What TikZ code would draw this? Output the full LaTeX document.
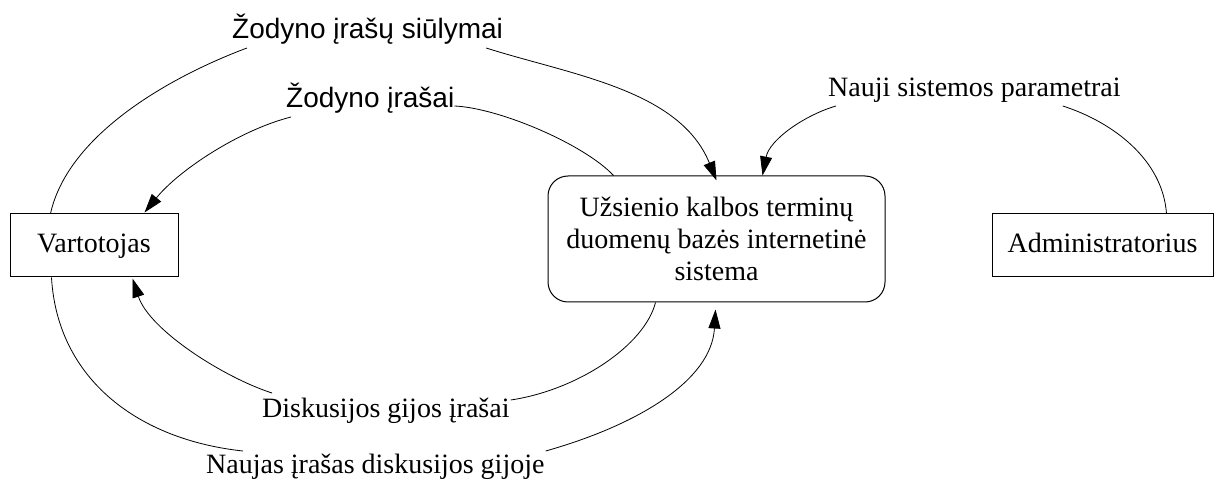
\documentclass[tikz,border=0pt]{standalone}
\usepackage{fontspec}
\setmainfont{Liberation Serif}
\newfontfamily\labsans{Liberation Sans}
\usetikzlibrary{arrows.meta,calc}

\begin{document}
\begin{tikzpicture}[x=1pt,y=-1pt,
  every node/.style={font=\fontsize{28}{32}\selectfont},
  actor/.style={draw,line width=1pt,rectangle,inner sep=0pt,
    minimum height=63pt,text height=19pt,text depth=4pt},
  process/.style={draw,line width=1pt,rectangle,rounded corners=20pt,
    inner sep=0pt,minimum width=337pt,minimum height=126pt,align=center},
  serlab/.style={inner sep=0pt,anchor=base west},
  sanslab/.style={inner sep=0pt,anchor=base west,
    font=\fontsize{28}{32}\selectfont\labsans},
  flow/.style={line width=0.8pt},
  tip/.style={-{Triangle[length=19pt,width=12pt]}}
]
\useasboundingbox (0,0) rectangle (1219,481);

% external entities and the system
\node[actor,minimum width=168pt] (vart) at (94,245.5) {Vartotojas};
\node[actor,minimum width=221pt] (adm) at (1102.5,245.5) {Administratorius};
\node[process] (sys) at (716.5,239)
  {Užsienio kalbos terminų\\duomenų bazės internetinė\\sistema};

% flow labels
\node[sanslab] (siul) at (232,39) {Žodyno įrašų siūlymai};
\node[sanslab] (zod) at (286,108) {Žodyno įrašai};
\node[serlab] (naujp) at (828,97) {Nauji sistemos parametrai};
\node[serlab] (disk) at (262,417) {Diskusijos gijos įrašai};
\node[serlab] (naujas) at (206,473) {Naujas įrašas diskusijos gijoje};

% dictionary entry suggestions: user -> system
\draw[flow] ($(vart.north west)+(41,0)$)
  .. controls +(18,-80) and +(-75,28) .. ($(siul.base west)+(15,9)$);
\draw[flow,tip] ($(siul.base east)+(-17,9)$)
  .. controls +(85,27) and +(-37,-91) .. ($(sys.north west)+(169,5)$);

% dictionary entries: system -> user
\draw[flow] ($(sys.north west)+(66,0)$)
  .. controls +(-29,-31) and +(45,2) .. ($(zod.base east)+(0,-2)$);
\draw[flow,tip] ($(zod.base west)+(5,9)$)
  .. controls +(-51,13) and +(35,-43) .. ($(vart.north west)+(135,-1)$);

% new system parameters: administrator -> system
\draw[flow] ($(adm.north west)+(175,0)$)
  .. controls +(-4,-54) and +(50,16) .. ($(naujp.base east)+(-58,9)$);
\draw[flow,tip] ($(naujp.base west)+(8,9)$)
  .. controls +(-31,9) and +(7,-36) .. ($(sys.north west)+(215,0)$);

% discussion thread entries: system -> user
\draw[flow] ($(sys.south west)+(108,0)$)
  .. controls +(-11,43) and +(67,-10) .. ($(disk.base east)+(1,-17)$);
\draw[flow,tip] ($(disk.base west)+(10,-24)$)
  .. controls +(-47,-15) and +(17,52) .. ($(vart.south west)+(123,1)$);

% new discussion thread entry: user -> system
\draw[flow] ($(vart.south west)+(42,0)$)
  .. controls +(6,103) and +(-103,-11) .. ($(naujas.base west)+(37,-22)$);
\draw[flow,tip] ($(naujas.base east)+(1,-22)$)
  .. controls +(92,-26) and +(-4,71) .. ($(sys.south west)+(168,7)$);
\end{tikzpicture}
\end{document}
